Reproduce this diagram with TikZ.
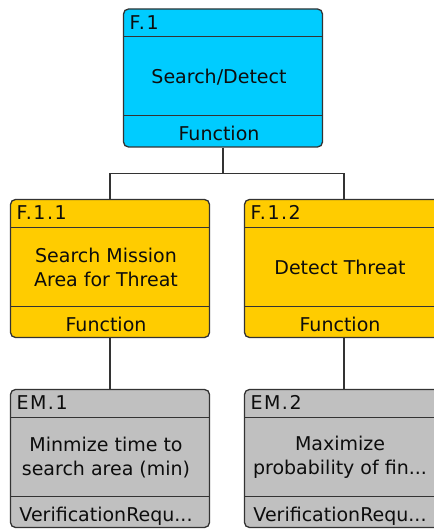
\documentclass[tikz,border=0pt]{standalone}
\usepackage{fontspec}
\setmainfont{DejaVu Sans}
\usepackage{xcolor}
\usetikzlibrary{positioning}
\definecolor{funccyan}{RGB}{0, 204, 255}
\definecolor{funcgold}{RGB}{255, 204, 0}
\definecolor{reqgray}{RGB}{192, 192, 192}
\definecolor{edgegray}{RGB}{51, 51, 51}

\tikzset{
  block/.style={draw=edgegray, line width=1.3pt, rounded corners=5pt,
    minimum width=199pt, minimum height=138pt, inner sep=0pt, fill=#1,
    path picture={
      \draw[edgegray, line width=1pt]
        ([yshift=-28pt]path picture bounding box.north west) -- ([yshift=-28pt]path picture bounding box.north east)
        ([yshift=31pt]path picture bounding box.south west) -- ([yshift=31pt]path picture bounding box.south east);
    }},
  tag/.style={label={[anchor=base west, inner sep=0pt, xshift=6.5pt, yshift=-21pt, font=\fontsize{19}{24}\selectfont\addfontfeatures{LetterSpace=8}]north west:#1}},
  kind/.style={label={[anchor=base, inner sep=0pt, xshift=-4pt, yshift=7pt]south:#1}},
  body/.style={label={[anchor=center, align=center, xshift=-4pt, yshift=1pt]center:#1}},
  link/.style={draw=edgegray, line width=1.3pt},
}

\begin{document}
\begin{tikzpicture}[x=1pt, y=-1pt, font=\fontsize{19}{24}\selectfont, text=black!95]
\useasboundingbox (0,0) rectangle (433,529);

% functions
\node[block=funccyan, tag=F.1, kind=Function, body=Search/Detect] (f1) at (223,78) {};
\node[block=funcgold, tag=F.1.1, kind=Function, body={Search Mission\\Area for Threat}] (f11) at (110,268.5) {};
\node[block=funcgold, tag=F.1.2, kind=Function, body={Detect Threat}] (f12) at (344,268.5) {};

% verification requirements
\node[block=reqgray, tag=EM.1, kind=VerificationRequ..., body={Minmize time to\\search area (min)}] (em1) at (110,458.5) {};
\node[block=reqgray, tag=EM.2, kind=VerificationRequ..., body={Maximize\\probability of fin...}] (em2) at (344,458.5) {};

% links
\draw[link] (f1.south) -- ++(0,26) -| (f11.north);
\draw[link] (f1.south) -- ++(0,26) -| (f12.north);
\draw[link] (f11) -- (em1);
\draw[link] (f12) -- (em2);
\end{tikzpicture}
\end{document}
